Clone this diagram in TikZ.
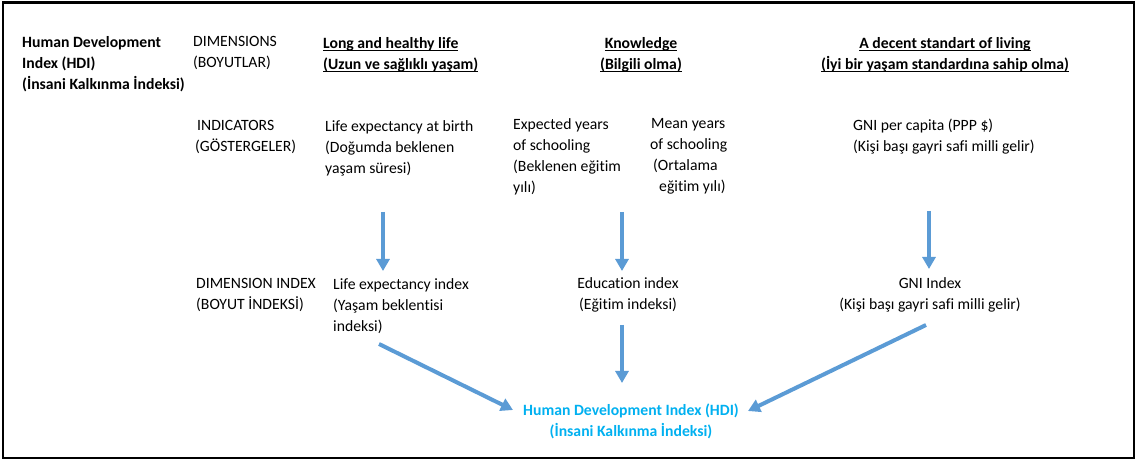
\documentclass[tikz,border=0pt]{standalone}
\usepackage{fontspec}
\setmainfont{Carlito}[Ligatures=NoCommon]
\usetikzlibrary{arrows.meta}
\definecolor{arrowblue}{HTML}{5B9BD5}
\definecolor{hdiblue}{HTML}{00B0F0}
\newcommand\dfont{\fontsize{15.7}{21}\selectfont}
\newcommand\tpstrut{\rule{0pt}{14pt}}
\newcommand\myul[1]{\begingroup\setbox0\hbox{#1}\rlap{\rule[-2.9pt]{\wd0}{1.1pt}}\box0\endgroup}
\begin{document}
\begin{tikzpicture}[x=1pt,y=-1pt,
  txt/.style={inner sep=0pt, anchor=north west, yshift=14pt, align=left, font=\dfont, execute at begin node=\tpstrut},
  btxt/.style={txt, font=\dfont\bfseries},
  ctxt/.style={txt, anchor=north, align=center},
  cbtxt/.style={ctxt, font=\dfont\bfseries},
  arr/.style={draw=arrowblue, line width=4pt, -{Triangle[length=12pt,width=13pt]}}]
\useasboundingbox (0,0) rectangle (1136,462);
\draw[line width=2.5pt] (3,2.5) rectangle (1134,458);
% row 1: dimensions
\node[btxt] (hdilabel) at (22,50) {Human Development\\Index (HDI)\\(İnsani Kalkınma İndeksi)};
\node[txt] (dims) at (193,50) {DIMENSIONS\\(BOYUTLAR)};
\node[btxt] (health) at (323,51) {\myul{Long and healthy life}\\\myul{(Uzun ve sağlıklı yaşam)}};
\node[cbtxt] (know) at (641,51) {\myul{Knowledge}\\\myul{(Bilgili olma)}};
\node[cbtxt] (living) at (945,51) {\myul{A decent standart of living}\\\myul{(İyi bir yaşam standardına sahip olma)}};
% row 2: indicators
\node[txt] (indic) at (197,134) {INDICATORS\\\hspace*{-2pt}(GÖSTERGELER)};
\node[txt] (lifebirth) at (325,134) {Life expectancy at birth\\(Doğumda beklenen\\yaşam süresi)};
\node[txt] (expyrs) at (513,132) {Expected years\\of schooling\\(Beklenen eğitim\\yılı)};
\node[txt] (meanyrs) at (651,132) {Mean years\\\hspace*{-1pt}of schooling\\\hspace*{2pt}(Ortalama\\\hspace*{8pt}eğitim yılı)};
\node[txt] (gnicap) at (853,133) {GNI per capita (PPP \$)\\(Kişi başı gayri safi milli gelir)};
% row 3: dimension index
\node[txt] (dimidx) at (196,292) {DIMENSION INDEX\\(BOYUT İNDEKSİ)};
\node[txt] (lifeidx) at (333,292) {Life expectancy index\\(Yaşam beklentisi\\indeksi)};
\node[ctxt] (eduidx) at (628,291) {Education index\\(Eğitim indeksi)};
\node[ctxt] (gniidx) at (930,291) {GNI Index\\(Kişi başı gayri safi milli gelir)};
% result
\node[cbtxt, text=hdiblue] (hdi) at (631,418) {Human Development Index (HDI)\\(İnsani Kalkınma İndeksi)};
% arrow end points
\coordinate (a1s) at (383,212); \coordinate (a1e) at (383,271);
\coordinate (a2s) at (622,212); \coordinate (a2e) at (622,271);
\coordinate (a3s) at (929,211); \coordinate (a3e) at (929,269);
\coordinate (a4s) at (622,325); \coordinate (a4e) at (622,383);
\coordinate (a5s) at (379,344); \coordinate (a5e) at (513,410);
\coordinate (a6s) at (926,325); \coordinate (a6e) at (748,411);
\draw[arr] (a1s) -- (a1e);
\draw[arr] (a2s) -- (a2e);
\draw[arr] (a3s) -- (a3e);
\draw[arr] (a4s) -- (a4e);
\draw[arr] (a5s) -- (a5e);
\draw[arr] (a6s) -- (a6e);
\end{tikzpicture}
\end{document}
